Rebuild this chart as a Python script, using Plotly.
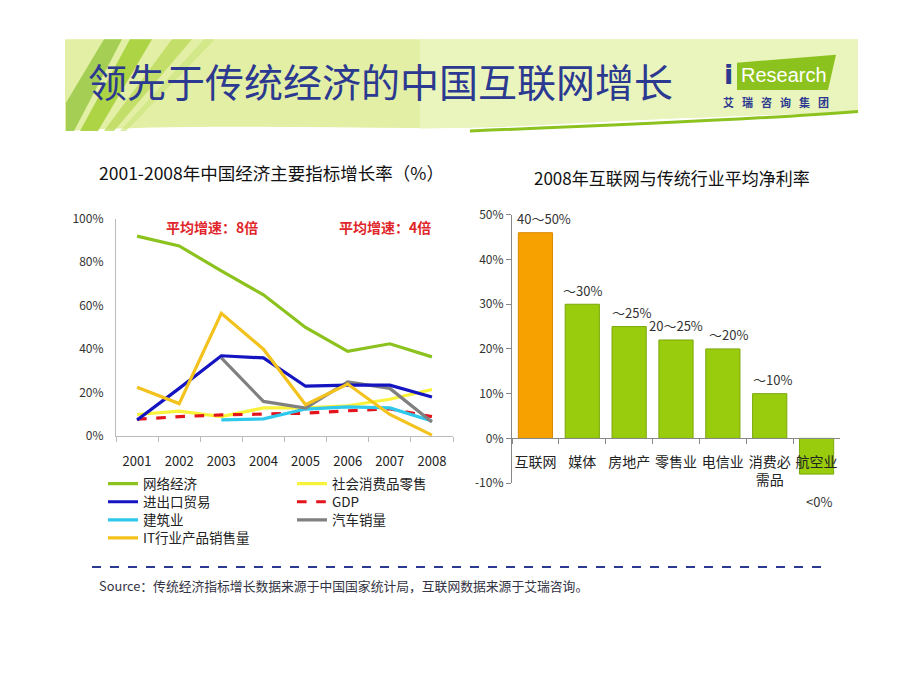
import plotly.graph_objects as go

W, H = 920, 690

# ---------------- data ----------------
years = ['2001', '2002', '2003', '2004', '2005', '2006', '2007', '2008']
net_econ = [92, 87.5, 76, 65, 50, 39, 42.5, 36.5]
retail = [10, 11.5, 9, 13, 13, 14, 17, 21.5]
trade = [7.5, 22, 37, 36, 23, 23.5, 23.5, 18]
gdp = [7.8, 9, 9.8, 10.2, 10.6, 11.7, 12.6, 9]
construction = [None, None, 7.5, 8, 12.5, 13.5, 13, 7]
auto_sales = [None, None, 36, 16, 13, 25, 22, 6.5]
it_sales = [22.5, 15, 56.5, 40, 14.5, 24, 10, 0.5]
split_year = '2005'

industries = ['互联网', '媒体', '房地产', '零售业', '电信业', '消费必<br>需品', '航空业']
margins = [46, 30, 25, 22, 20, 10, -8]
margin_labels = ['40～50%', '～30%', '～25%', '20～25%', '～20%', '～10%', '<0%']

left_ticks = [0, 20, 40, 60, 80, 100]
right_ticks = [-10, 0, 10, 20, 30, 40, 50]

# label nudges (pixels) for the bar value labels
label_dx = [9, 0, 2, 0, 6, 3, 2]


def px(x):
    return x / W


def py(y):
    return 1 - y / H


def path(cmds):
    out = []
    for c in cmds:
        op = c[0]
        pts = c[1:]
        s = op
        for i in range(0, len(pts), 2):
            s += ' %.5f,%.5f' % (px(pts[i]), py(pts[i + 1]))
        out.append(s)
    return ' '.join(out) + ' Z'


NAVY = '#2B3990'
FONT = 'Noto Sans CJK SC, sans-serif'

fig = go.Figure()

# ---------------- left line chart ----------------
# (name, values, colour, dash, legend id, legend x px, legend top px)
series = [
    ('社会消费品零售', retail, '#F8F23A', 'solid', 'legend2', 292, 470),
    ('GDP', gdp, '#E3141B', 'dash', 'legend4', 292, 488.5),
    ('建筑业', construction, '#2EC8EC', 'solid', 'legend5', 103, 507),
    ('汽车销量', auto_sales, '#808080', 'solid', 'legend6', 292, 507),
    ('进出口贸易', trade, '#1414C0', 'solid', 'legend3', 103, 488.5),
    ('IT行业产品销售量', it_sales, '#F4C21C', 'solid', 'legend7', 103, 525.5),
    ('网络经济', net_econ, '#8CC21E', 'solid', 'legend', 103, 470),
]
legend_layout = {}
for name, vals, col, dash, leg, lx, ly in series:
    fig.add_trace(go.Scatter(
        x=years, y=vals, name=name, mode='lines',
        line=dict(color=col, width=3.2, dash=dash),
        legend=leg, connectgaps=False,
        xaxis='x', yaxis='y', cliponaxis=False))
    legend_layout[leg] = dict(x=px(lx), y=py(ly), xanchor='left', yanchor='top',
                              bgcolor='rgba(0,0,0,0)',
                              font=dict(size=13.5, color='#222222'),
                              tracegroupgap=0, itemwidth=30)

# ---------------- right bar chart ----------------
bar_colors = ['#F7A100'] + ['#98CC0C'] * (len(industries) - 1)
line_colors = ['#D98A00'] + ['#7BA80A'] * (len(industries) - 1)
fig.add_trace(go.Bar(
    x=industries, y=margins,
    marker=dict(color=bar_colors, line=dict(color=line_colors, width=1)),
    showlegend=False, xaxis='x2', yaxis='y2', cliponaxis=False,
    hoverinfo='x+y'))

fig.update_layout(
    width=W, height=H, autosize=False,
    margin=dict(l=0, r=0, t=0, b=0),
    paper_bgcolor='white', plot_bgcolor='rgba(0,0,0,0)',
    font=dict(family=FONT, color='#222222', size=13),
    bargap=0.27,
    xaxis=dict(domain=[px(116), px(453)], type='category',
               range=[-0.5, len(years) - 0.5],
               showline=True, linecolor='#BBBBBB', linewidth=1.2,
               ticks='outside', tickson='boundaries', ticklen=5,
               tickcolor='#BBBBBB', showgrid=False, zeroline=False,
               ticklabelstandoff=13, tickangle=0,
               tickfont=dict(size=13, color='#222222'), anchor='y'),
    yaxis=dict(domain=[py(437), py(214)], range=[0, 100],
               tickvals=left_ticks, ticktext=['%d%%' % v for v in left_ticks],
               showline=True, linecolor='#BBBBBB', linewidth=1.2,
               showgrid=False, zeroline=False, ticks='',
               ticklabelstandoff=9,
               tickfont=dict(size=12, color='#333333'), anchor='x'),
    xaxis2=dict(domain=[px(512), px(840)], type='category',
                range=[-0.5, len(industries) - 0.5],
                anchor='free', position=py(439),
                showline=True, linecolor='#888888', linewidth=1.2,
                ticks='outside', tickson='boundaries', ticklen=5,
                tickcolor='#888888', showgrid=False, zeroline=False,
                ticklabelstandoff=11, tickangle=0,
                tickfont=dict(size=14, color='#222222')),
    yaxis2=dict(domain=[py(485), py(210)], range=[-10, 50],
                tickvals=right_ticks, ticktext=['%d%%' % v for v in right_ticks],
                showline=True, linecolor='#888888', linewidth=1.2,
                ticks='outside', ticklen=5, tickcolor='#888888',
                showgrid=False, zeroline=False,
                tickfont=dict(size=12, color='#333333'), anchor='x2'),
    **legend_layout,
)

shapes = []
# banner background
shapes.append(dict(type='path', xref='paper', yref='paper', layer='below',
                   path=path([('M', 65, 30), ('L', 858, 30), ('L', 858, 104),
                              ('C', 760, 108, 640, 112, 540, 118),
                              ('C', 400, 126, 240, 114, 65, 124)]),
                   fillcolor='#E2EFA4', line=dict(width=0)))
shapes.append(dict(type='path', xref='paper', yref='paper', layer='below',
                   path=path([('M', 420, 30), ('L', 858, 30), ('L', 858, 104),
                              ('C', 760, 108, 640, 112, 540, 118),
                              ('L', 420, 122)]),
                   fillcolor='#EEF6C8', opacity=0.7, line=dict(width=0)))
# diagonal stripes
for pts, col, op in [
    ([(66, 95), (66, 124), (74, 124), (122, 30), (104, 30)], '#8FC43A', 0.75),
    ([(80, 124), (98, 124), (152, 30), (130, 30)], '#A6D03A', 0.9),
    ([(104, 124), (114, 124), (192, 30), (172, 30)], '#BCDB5A', 0.8),
    ([(120, 124), (126, 124), (215, 30), (204, 30)], '#CDE57E', 0.7),
]:
    cmds = [('M',) + pts[0]] + [('L',) + p for p in pts[1:]]
    shapes.append(dict(type='path', xref='paper', yref='paper', layer='below',
                       path=path(cmds), fillcolor=col, opacity=op,
                       line=dict(width=0)))
# wave stroke
shapes.append(dict(type='path', xref='paper', yref='paper', layer='below',
                   path='M %.5f,%.5f C %.5f,%.5f %.5f,%.5f %.5f,%.5f' % (
                       px(470), py(124), px(620), py(118), px(760), py(112),
                       px(858), py(104)),
                   line=dict(color='#8CC21E', width=3)))
# logo parallelogram
shapes.append(dict(type='path', xref='paper', yref='paper',
                   path=path([('M', 737, 54), ('L', 836, 46), ('L', 828, 82),
                              ('L', 737, 82)]),
                   fillcolor='#8CC21E', line=dict(width=0)))
# dividing dash-dot line at 2005
shapes.append(dict(type='line', xref='x', yref='paper',
                   x0=split_year, x1=split_year, y0=py(449), y1=py(192),
                   line=dict(color='#C8141E', width=2.5, dash='dashdot')))
# source separator
shapes.append(dict(type='line', xref='paper', yref='paper',
                   x0=px(92), x1=px(828), y0=py(571), y1=py(571),
                   line=dict(color=NAVY, width=2, dash='dash')))
fig.update_layout(shapes=shapes)


def note(text, x, y, size, color, xanchor='center', family=FONT):
    return dict(text=text, x=px(x), y=py(y), xref='paper', yref='paper',
                xanchor=xanchor, yanchor='middle', showarrow=False,
                font=dict(size=size, color=color, family=family))


sp = '\u2002 '
ann = [
    note('领先于传统经济的中国互联网增长', 86, 72, 39, NAVY, 'left'),
    note('<b>i</b>', 735, 66, 27, NAVY, 'right', 'DejaVu Sans'),
    note('Research', 739, 67, 20, 'white', 'left', 'Liberation Sans'),
    note('<b>' + sp.join('艾瑞咨询集团') + '</b>', 776, 94, 11, NAVY),
    note('2001-2008年中国经济主要指标增长率（%）', 271, 167, 17.5, '#111111'),
    note('2008年互联网与传统行业平均净利率', 672, 172, 17, '#111111'),
    note('<b>平均增速：8倍</b>', 212, 222, 14, '#E0262B'),
    note('<b>平均增速：4倍</b>', 385, 222, 14, '#E0262B'),
    note('Source：传统经济指标增长数据来源于中国国家统计局，互联网数据来源于艾瑞咨询。',
         97, 590, 12.8, '#333344', 'left'),
]
# bar value labels, placed through the bar chart's own axes
for cat, val, lab, dx in zip(industries, margins, margin_labels, label_dx):
    ann.append(dict(text=lab, x=cat, y=val, xref='x2', yref='y2',
                    xanchor='center', yanchor='middle', showarrow=False,
                    xshift=dx, yshift=14 if val >= 0 else -27,
                    font=dict(size=13, color='#333333', family=FONT)))
fig.update_layout(annotations=ann)

fig.write_html('out.html',
               config={'displayModeBar': False},
               post_script="document.body.style.margin='0';"
                           "document.body.style.overflow='hidden';")
